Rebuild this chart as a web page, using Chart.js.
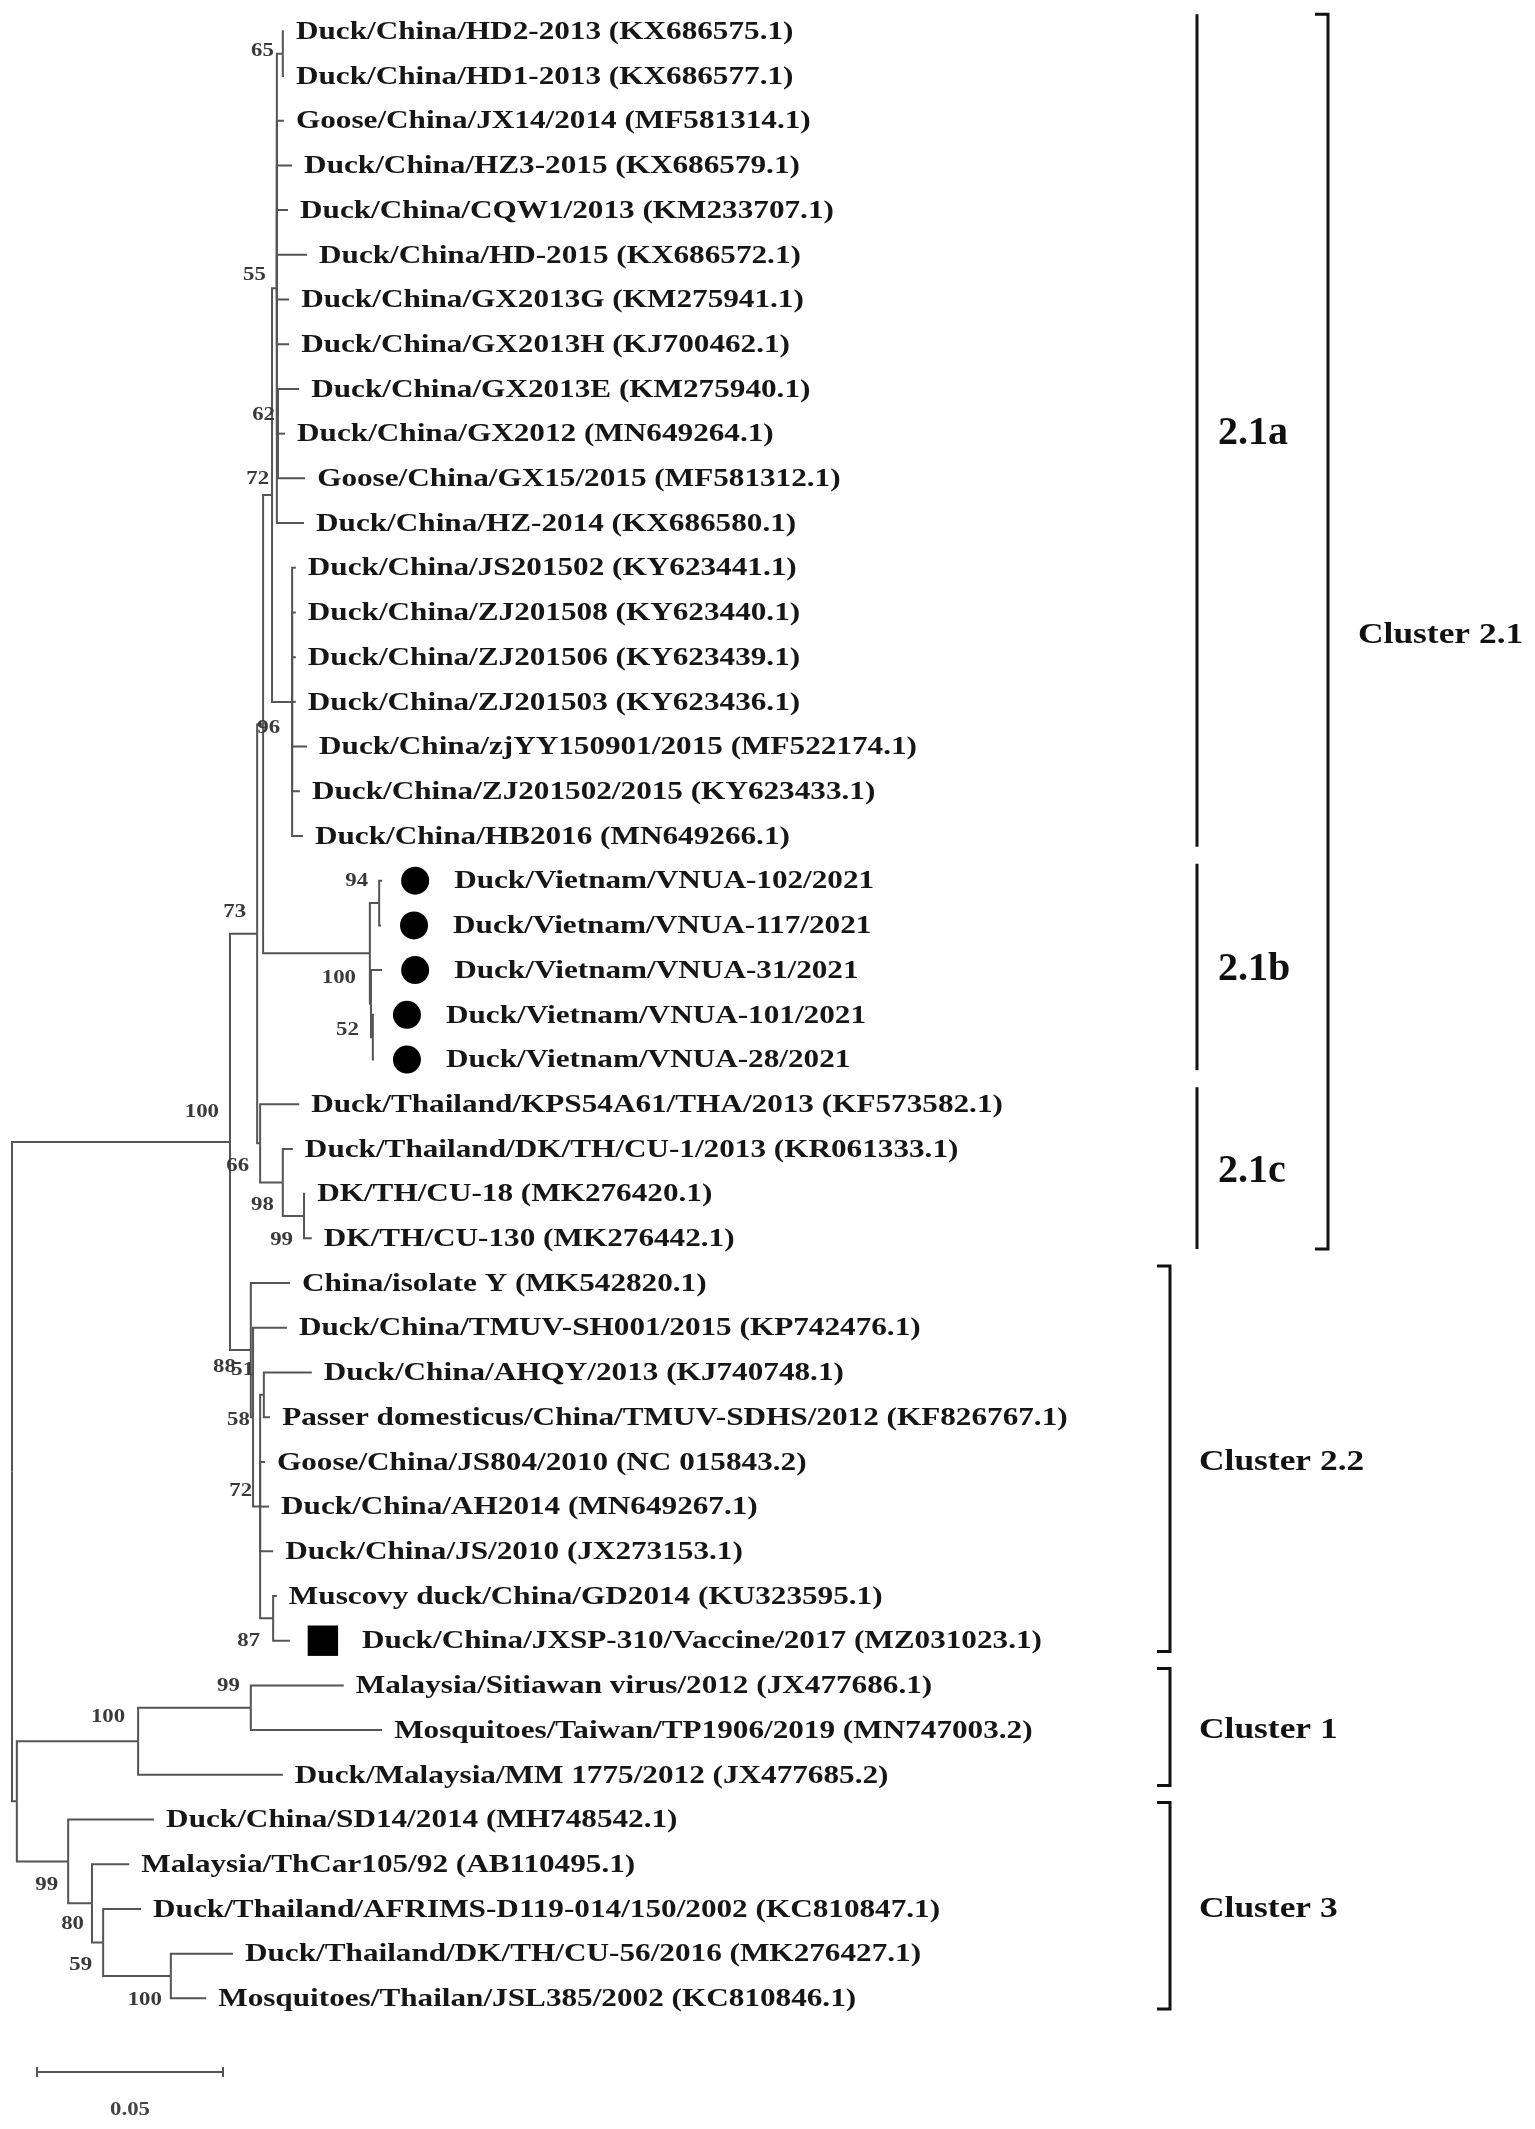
<!DOCTYPE html>
<html><head><meta charset="utf-8">
<script src="https://cdn.jsdelivr.net/npm/chart.js@4.4.0/dist/chart.umd.min.js"></script>
<style>html,body{margin:0;padding:0;background:#fff;}#wrap{width:1535px;height:2129px;}canvas{display:block;}</style>
</head><body><div id="wrap"><canvas id="c" width="1535" height="2129"></canvas></div>
<script>
// ---------------- DATA ----------------
const leafNames = [
 'Duck/China/HD2-2013 (KX686575.1)','Duck/China/HD1-2013 (KX686577.1)','Goose/China/JX14/2014 (MF581314.1)',
 'Duck/China/HZ3-2015 (KX686579.1)','Duck/China/CQW1/2013 (KM233707.1)','Duck/China/HD-2015 (KX686572.1)',
 'Duck/China/GX2013G (KM275941.1)','Duck/China/GX2013H (KJ700462.1)','Duck/China/GX2013E (KM275940.1)',
 'Duck/China/GX2012 (MN649264.1)','Goose/China/GX15/2015 (MF581312.1)','Duck/China/HZ-2014 (KX686580.1)',
 'Duck/China/JS201502 (KY623441.1)','Duck/China/ZJ201508 (KY623440.1)','Duck/China/ZJ201506 (KY623439.1)',
 'Duck/China/ZJ201503 (KY623436.1)','Duck/China/zjYY150901/2015 (MF522174.1)','Duck/China/ZJ201502/2015 (KY623433.1)',
 'Duck/China/HB2016 (MN649266.1)','Duck/Vietnam/VNUA-102/2021','Duck/Vietnam/VNUA-117/2021',
 'Duck/Vietnam/VNUA-31/2021','Duck/Vietnam/VNUA-101/2021','Duck/Vietnam/VNUA-28/2021',
 'Duck/Thailand/KPS54A61/THA/2013 (KF573582.1)','Duck/Thailand/DK/TH/CU-1/2013 (KR061333.1)','DK/TH/CU-18 (MK276420.1)',
 'DK/TH/CU-130 (MK276442.1)','China/isolate Y (MK542820.1)','Duck/China/TMUV-SH001/2015 (KP742476.1)',
 'Duck/China/AHQY/2013 (KJ740748.1)','Passer domesticus/China/TMUV-SDHS/2012 (KF826767.1)','Goose/China/JS804/2010 (NC 015843.2)',
 'Duck/China/AH2014 (MN649267.1)','Duck/China/JS/2010 (JX273153.1)','Muscovy duck/China/GD2014 (KU323595.1)',
 'Duck/China/JXSP-310/Vaccine/2017 (MZ031023.1)','Malaysia/Sitiawan virus/2012 (JX477686.1)','Mosquitoes/Taiwan/TP1906/2019 (MN747003.2)',
 'Duck/Malaysia/MM 1775/2012 (JX477685.2)','Duck/China/SD14/2014 (MH748542.1)','Malaysia/ThCar105/92 (AB110495.1)',
 'Duck/Thailand/AFRIMS-D119-014/150/2002 (KC810847.1)','Duck/Thailand/DK/TH/CU-56/2016 (MK276427.1)','Mosquitoes/Thailan/JSL385/2002 (KC810846.1)'
];
// distance from root (substitutions per site) of each tip
const leafDepths = [
 0.0731,0.0731,0.0731,0.0753,0.0742,0.0793,0.0745,0.0745,0.0772,0.0734,0.0788,0.0785,
 0.0763,0.0763,0.0763,0.0763,0.0793,0.0774,0.0782,
 0.0995,0.0992,0.0995,0.0973,0.0973,
 0.0772,0.0755,0.0788,0.0806,
 0.0747,0.0739,0.0806,0.0694,0.0680,0.0691,0.0702,0.0712,0.0747,
 0.0892,0.0995,0.0728,
 0.0382,0.0315,0.0347,0.0594,0.0522
];
const leafParents = [
 'N65','N65','N55','N55','N55','N55','N55','N55','N62','N62','N62','N55',
 'NZJ','NZJ','NZJ','NZJ','NZJ','NZJ','NZJ',
 'N94','N94','N100v','N52','N52',
 'N66','NThai','N99t','N99t',
 'N88','N51','N58','N58','N72b','N72b','N72b','N87','N87',
 'N99c','N99c','C1',
 'C3','N80','N59','N100b','N100b'
];
const nodeNames   = ['root','C2','N21','N96','N72a','N55','N65','N62','NZJ','NVN','N94','N100v','N52','N66','NThai','N99t','N88','N51','N72b','N58','N87','C13','C1','N99c','C3','N80','N59','N100b'];
const nodeParents = [null,'root','C2','N21','N96','N72a','N55','N55','N72a','N96','NVN','NVN','N100v','N21','N66','NThai','C2','N88','N51','N72b','N72b','root','C13','C1','C13','C3','N80','N59'];
const nodeDepths  = [0,0.0586,0.0659,0.0675,0.0699,0.0712,0.0728,0.0715,0.0753,0.0962,0.0987,0.0965,0.0970,0.0667,0.0728,0.0785,0.0642,0.0648,0.0667,0.0677,0.0702,0.0013,0.0339,0.0642,0.0151,0.0215,0.0245,0.0427];
const nodeSupport = [null,100,73,96,72,55,65,62,null,null,94,100,52,66,98,99,88,51,72,58,87,null,100,99,99,80,59,100];

const vietnamIsolates = [19,20,21,22,23];
const vaccineStrains  = [36];

const cladeNames     = ['2.1a','2.1b','2.1c','Cluster 2.1','Cluster 2.2','Cluster 1','Cluster 3'];
const cladeFirstLeaf = [0,19,24,0,28,37,40];
const cladeLastLeaf  = [18,23,27,27,36,39,44];

const scaleBarLength = 0.05;
const scaleBarLabel  = '0.05';

// ---------------- LAYOUT / STYLE ----------------
const L = {
  padLeft:12, padRight:35, padTop:0, padBottom:1,
  xMax:0.4, yMin:-0.7, yMax:46.9,
  branchColor:'#555', branchWidth:2,
  textGap:12, markGap:33, markTextGap:72,
  leafFont:26, leafStretch:1.2, leafColor:'#161616',
  supFont:19, supStretch:1.2, supColor:'#3a3a3a', supDx:-11,
  supShift:{C2:{dy:-30},N21:{dy:-22},N96:{dx:17,dy:4},N72a:{dx:-3,dy:-16},N62:{dx:-3,dy:-19},N55:{dy:-13},N65:{dx:-9,dy:-3},
            N94:{dy:-22},N100v:{dx:-15,dy:-26},N52:{dx:-14,dy:-7},N66:{dy:23},NThai:{dx:-9,dy:23},N99t:{dy:24},
            N88:{dx:-15,dy:17},N51:{dx:1,dy:-47},N58:{dx:-14,dy:25},N72b:{dx:-8,dy:-15},N87:{dx:-13,dy:23},
            C1:{dx:-13,dy:-24},N99c:{dy:-22},C3:{dx:-10,dy:24},N80:{dx:-8,dy:21},N59:{dy:23},N100b:{dx:-9,dy:24}},
  bracket:[
    {x:1197,tick:0,lx:1218,font:40,stretch:1.0},
    {x:1197,tick:0,lx:1218,font:40,stretch:1.0},
    {x:1197,tick:0,lx:1218,font:40,stretch:1.0},
    {x:1328,tick:13,lx:1358,font:30,stretch:1.18},
    {x:1170,tick:13,lx:1199,font:30,stretch:1.18},
    {x:1170,tick:13,lx:1199,font:30,stretch:1.18},
    {x:1170,tick:13,lx:1199,font:30,stretch:1.18}
  ],
  bracketTop:-0.38, bracketBottom:0.24, bracketColor:'#111', bracketWidth:3,
  scaleBarX:37, scaleBarRow:45.65, scaleLabelRow:46.5, scaleFont:19
};
const PPU = (1535 - L.padLeft - L.padRight) / L.xMax;      // pixels per unit
const pxToUnit = px => (px - L.padLeft) / PPU;

// ---------------- TREE GEOMETRY ----------------
const nodeIndex = {}; nodeNames.forEach((n,i)=>nodeIndex[n]=i);
const kids = nodeNames.map(()=>[]);
leafParents.forEach((p,i)=>kids[nodeIndex[p]].push({leaf:true,i}));
nodeParents.forEach((p,i)=>{ if(p) kids[nodeIndex[p]].push({leaf:false,i}); });
const nodeY = [];
function yOf(c){ return c.leaf ? c.i : computeY(c.i); }
function computeY(i){
  if(nodeY[i]!==undefined) return nodeY[i];
  const ys = kids[i].map(yOf);
  nodeY[i] = (Math.min(...ys)+Math.max(...ys))/2;
  return nodeY[i];
}
nodeNames.forEach((_,i)=>computeY(i));

const datasets = [];
function branch(pIdx, cx, cy){
  const px = nodeDepths[pIdx], py = nodeY[pIdx];
  datasets.push({data:[{x:px,y:py},{x:px,y:cy},{x:cx,y:cy}], showLine:true, borderColor:L.branchColor,
    borderWidth:L.branchWidth, pointRadius:0, tension:0, clip:false, borderJoinStyle:'miter'});
}
leafParents.forEach((p,i)=>branch(nodeIndex[p], leafDepths[i], i));
nodeParents.forEach((p,i)=>{ if(p) branch(nodeIndex[p], nodeDepths[i], nodeY[i]); });

// clade brackets
cladeNames.forEach((n,k)=>{
  const b = L.bracket[k];
  const x = pxToUnit(b.x), xt = pxToUnit(b.x - b.tick);
  const top = cladeFirstLeaf[k] + L.bracketTop, bot = cladeLastLeaf[k] + L.bracketBottom;
  const pts = b.tick ? [{x:xt,y:top},{x:x,y:top},{x:x,y:bot},{x:xt,y:bot}] : [{x:x,y:top},{x:x,y:bot}];
  datasets.push({data:pts, showLine:true, borderColor:L.bracketColor, borderWidth:L.bracketWidth, pointRadius:0, tension:0, clip:false});
});

// scale bar
const sb0 = pxToUnit(L.scaleBarX);
datasets.push({data:[{x:sb0,y:L.scaleBarRow},{x:sb0+scaleBarLength,y:L.scaleBarRow}], showLine:true,
  borderColor:'#555', borderWidth:2, pointStyle:'line', rotation:90, pointRadius:5, pointBorderColor:'#555', pointBorderWidth:2, clip:false});

// markers
const gapU = L.markGap / PPU;
datasets.push({data:vietnamIsolates.map(i=>({x:leafDepths[i]+gapU,y:i})), showLine:false, pointStyle:'circle',
  pointRadius:14, backgroundColor:'#000', borderColor:'#000', pointBorderWidth:0, clip:false});
datasets.push({data:vaccineStrains.map(i=>({x:leafDepths[i]+gapU,y:i})), showLine:false, pointStyle:'rect',
  pointRadius:21.5, backgroundColor:'#000', borderColor:'#000', pointBorderWidth:0, clip:false});

const marked = new Set([...vietnamIsolates, ...vaccineStrains]);

function drawText(ctx, txt, x, y, size, stretch, align, color){
  ctx.save();
  ctx.font = 'bold ' + size + 'px "Liberation Serif", "Times New Roman", serif';
  ctx.fillStyle = color; ctx.textBaseline = 'middle'; ctx.textAlign = align;
  ctx.translate(x, y); ctx.scale(stretch, 1);
  ctx.fillText(txt, 0, 0);
  ctx.restore();
}

const textPlugin = {
  id:'treeText',
  afterDatasetsDraw(chart){
    const ctx = chart.ctx, sx = chart.scales.x, sy = chart.scales.y;
    leafNames.forEach((name,i)=>{
      const px = sx.getPixelForValue(leafDepths[i]) + (marked.has(i) ? L.markTextGap : L.textGap);
      drawText(ctx, name, px, sy.getPixelForValue(i) + 1, L.leafFont, L.leafStretch, 'left', L.leafColor);
    });
    nodeNames.forEach((n,i)=>{
      if(nodeSupport[i]==null) return;
      const sh = L.supShift[n] || {};
      const px = sx.getPixelForValue(nodeDepths[i]) + (sh.dx!==undefined ? sh.dx : L.supDx);
      const py = sy.getPixelForValue(nodeY[i]) + (sh.dy||0);
      drawText(ctx, String(nodeSupport[i]), px, py, L.supFont, L.supStretch, 'right', L.supColor);
    });
    cladeNames.forEach((n,k)=>{
      const b = L.bracket[k];
      const py = sy.getPixelForValue((cladeFirstLeaf[k]+cladeLastLeaf[k])/2);
      drawText(ctx, n, b.lx, py, b.font, b.stretch, 'left', '#111');
    });
    const cx = sx.getPixelForValue(sb0 + scaleBarLength/2);
    drawText(ctx, scaleBarLabel, cx, sy.getPixelForValue(L.scaleLabelRow), L.scaleFont, 1.2, 'center', '#444');
  }
};

new Chart(document.getElementById('c').getContext('2d'), {
  type:'scatter',
  data:{datasets},
  options:{
    responsive:false, animation:false, devicePixelRatio:1, events:[],
    layout:{autoPadding:false, padding:{left:L.padLeft,right:L.padRight,top:L.padTop,bottom:L.padBottom}},
    scales:{
      x:{type:'linear',min:0,max:L.xMax,display:false},
      y:{type:'linear',min:L.yMin,max:L.yMax,reverse:true,display:false}
    },
    plugins:{legend:{display:false},tooltip:{enabled:false}}
  },
  plugins:[textPlugin]
});
</script></body></html>
